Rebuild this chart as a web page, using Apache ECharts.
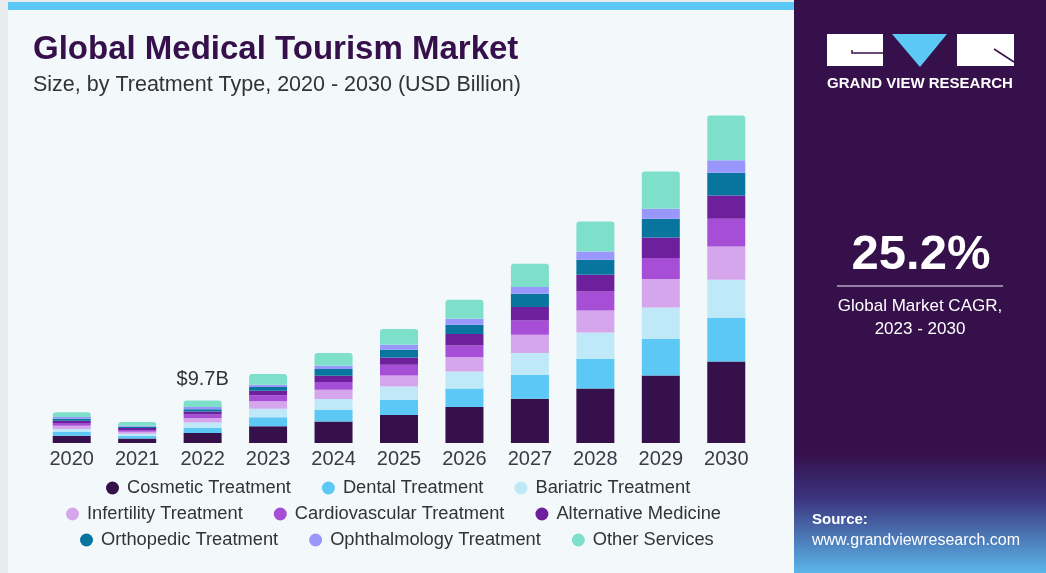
<!DOCTYPE html>
<html>
<head>
<meta charset="utf-8">
<title>Global Medical Tourism Market</title>
<script src="https://cdn.jsdelivr.net/npm/echarts@6/dist/echarts.min.js"></script>
<style>
    html, body { margin: 0; padding: 0; background: #fff; }
    #main { width: 1046px; height: 573px; }
</style>
</head>
<body>
<div id="main"></div>
<script>
// years on the x axis
var years = ['2020', '2021', '2022', '2023', '2024', '2025', '2026', '2027', '2028', '2029', '2030'];

// market size by treatment type, USD billion
var cosmetic      = [1.66, 1.05, 2.28, 3.80, 4.92, 6.38, 8.20, 10.09, 12.44, 15.40, 18.59];
var dental        = [0.84, 0.60, 1.21, 2.05, 2.67, 3.49, 4.24, 5.47, 6.70, 8.29, 9.89];
var bariatric     = [0.68, 0.45, 1.21, 1.98, 2.44, 3.03, 3.87, 4.94, 6.06, 7.20, 8.72];
var infertility   = [0.75, 0.45, 0.98, 1.66, 2.12, 2.51, 3.28, 4.17, 5.01, 6.47, 7.59];
var cardio        = [0.62, 0.40, 0.84, 1.37, 1.75, 2.44, 2.64, 3.26, 4.33, 4.78, 6.31];
var alternative   = [0.52, 0.45, 0.68, 1.07, 1.44, 1.66, 2.60, 3.05, 3.80, 4.69, 5.31];
var orthopedic    = [0.46, 0.30, 0.52, 0.84, 1.53, 1.75, 2.12, 3.03, 3.42, 4.26, 5.17];
var ophthalmology = [0.39, 0.25, 0.46, 0.52, 0.75, 1.14, 1.37, 1.53, 1.89, 2.28, 2.89];
var other         = [1.07, 0.85, 1.53, 2.44, 2.89, 3.58, 4.33, 5.31, 6.83, 8.50, 10.16];

var names = ['Cosmetic Treatment', 'Dental Treatment', 'Bariatric Treatment',
    'Infertility Treatment', 'Cardiovascular Treatment', 'Alternative Medicine',
    'Orthopedic Treatment', 'Ophthalmology Treatment', 'Other Services'];
var values = [cosmetic, dental, bariatric, infertility, cardio, alternative, orthopedic, ophthalmology, other];
var colors = ['#36104a', '#5bc8f5', '#bfe9f9', '#d5a6ec', '#a64fd6', '#6e1f9c', '#08759f', '#9997fc', '#7ee0cb'];

var labelYear = 2;      // index of the bar with the callout
var labelText = '$9.7B';

var font = "'Liberation Sans', Arial, sans-serif";

var myChart = echarts.init(document.getElementById('main'));

var series = names.map(function (n, i) {
    var last = i === names.length - 1;
    var data = values[i].map(function (v, j) {
        if (last && j === labelYear) {
            return {
                value: v,
                label: {
                    show: true, position: 'top', distance: 11,
                    formatter: labelText, color: '#333', fontSize: 20, fontFamily: font
                }
            };
        }
        return v;
    });
    return {
        name: n,
        type: 'bar',
        stack: 'total',
        barWidth: 38,
        data: data,
        itemStyle: { color: colors[i], borderRadius: last ? [3, 3, 0, 0] : 0 },
        emphasis: { disabled: true }
    };
});

function legendRow(items, left, top) {
    return {
        data: items,
        left: left,
        top: top,
        padding: 0,
        icon: 'circle',
        itemWidth: 13,
        itemHeight: 13,
        itemGap: 31,
        selectedMode: false,
        textStyle: { color: '#333', fontSize: 18.3, fontFamily: font, lineHeight: 20, padding: [0, 0, 0, 3] }
    };
}

// right hand panel
var panelX = 794;
var graphics = [
    { type: 'rect', shape: { x: 8, y: 2, width: 786, height: 571 }, style: { fill: '#f3f8fb' }, silent: true },
    { type: 'rect', shape: { x: 8, y: 2, width: 786, height: 8 }, style: { fill: '#5bc8f5' }, silent: true },
    {
        type: 'rect', shape: { x: panelX, y: 0, width: 1046 - panelX, height: 573 }, silent: true,
        style: {
            fill: new echarts.graphic.LinearGradient(0, 0, 0, 1, [
                { offset: 0, color: '#36104a' },
                { offset: 0.79, color: '#36104a' },
                { offset: 0.87, color: '#3b347f' },
                { offset: 1, color: '#5bb6e8' }
            ])
        }
    },
    // logo
    { type: 'rect', shape: { x: 827, y: 34, width: 56, height: 32 }, style: { fill: '#fff' }, silent: true },
    { type: 'polyline', shape: { points: [[852, 50], [852, 53], [883, 53]] }, style: { stroke: '#36104a', lineWidth: 1.5, fill: null }, silent: true },
    { type: 'polygon', shape: { points: [[892, 34], [947, 34], [920, 67]] }, style: { fill: '#5bc8f5' }, silent: true },
    { type: 'rect', shape: { x: 957, y: 34, width: 57, height: 32 }, style: { fill: '#fff' }, silent: true },
    { type: 'line', shape: { x1: 994, y1: 49, x2: 1014, y2: 62 }, style: { stroke: '#36104a', lineWidth: 1.5 }, silent: true },
    { type: 'text', x: 920, y: 84, silent: true, style: { text: 'GRAND VIEW RESEARCH', fill: '#fff', font: 'bold 15px ' + font, align: 'center', verticalAlign: 'middle' } },
    // CAGR block
    { type: 'text', x: 921, y: 255, silent: true, style: { text: '25.2%', fill: '#fff', font: 'bold 49px ' + font, align: 'center', verticalAlign: 'middle' } },
    { type: 'line', shape: { x1: 837, y1: 286, x2: 1003, y2: 286 }, style: { stroke: '#b9a6c6', lineWidth: 1.5 }, silent: true },
    { type: 'text', x: 920, y: 306, silent: true, style: { text: 'Global Market CAGR,', fill: '#fff', font: '17px ' + font, align: 'center', verticalAlign: 'middle' } },
    { type: 'text', x: 920, y: 329, silent: true, style: { text: '2023 - 2030', fill: '#fff', font: '17px ' + font, align: 'center', verticalAlign: 'middle' } },
    // source
    { type: 'text', x: 812, y: 520, silent: true, style: { text: 'Source:', fill: '#fff', font: 'bold 15px ' + font, verticalAlign: 'middle' } },
    { type: 'text', x: 812, y: 541, silent: true, style: { text: 'www.grandviewresearch.com', fill: '#fff', font: '16px ' + font, verticalAlign: 'middle' } }
];

option = {
    backgroundColor: '#e9ecee',
    animation: false,
    title: {
        text: 'Global Medical Tourism Market',
        subtext: 'Size, by Treatment Type, 2020 - 2030 (USD Billion)',
        left: 28,
        top: 28,
        itemGap: 8,
        textStyle: { color: '#36104a', fontSize: 33, fontWeight: 'bold', fontFamily: font },
        subtextStyle: { color: '#333', fontSize: 21.5, fontFamily: font }
    },
    legend: [
        legendRow(names.slice(0, 3), 106, 478),
        legendRow(names.slice(3, 6), 66, 504),
        legendRow(names.slice(6, 9), 80, 530)
    ],
    grid: { left: 39, right: 287, top: 92, bottom: 130 },
    xAxis: {
        type: 'category',
        data: years,
        axisLine: { show: false },
        axisTick: { show: false },
        axisLabel: { color: '#3a3a46', fontSize: 20, fontFamily: font, margin: 6 }
    },
    yAxis: {
        type: 'value',
        min: 0,
        max: 80,
        show: false,
        splitLine: { show: false }
    },
    graphic: { elements: graphics },
    series: series
};

myChart.setOption(option);
</script>
</body>
</html>
